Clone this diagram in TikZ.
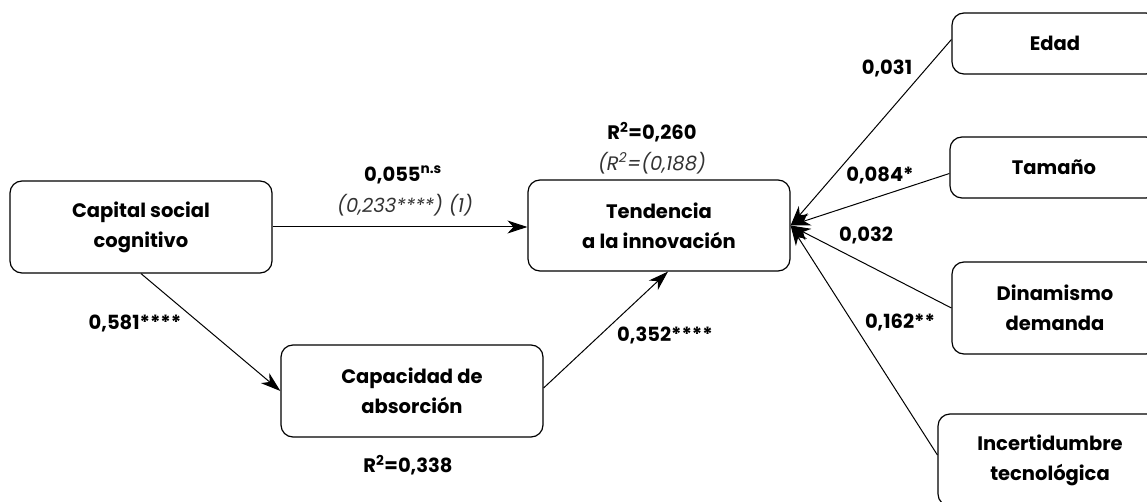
\documentclass[tikz,border=0pt]{standalone}
\usepackage{fontspec}
\setmainfont{Poppins}
\usetikzlibrary{arrows.meta}
\newcommand{\boxfont}{\fontsize{19.5}{30}\selectfont\bfseries}
\newcommand{\lblfont}{\fontsize{19.5}{24}\selectfont\bfseries}
\newcommand{\notefont}{\fontsize{19.5}{24}\selectfont\itshape}
\begin{document}
\begin{tikzpicture}[x=1pt,y=-1pt,
  box/.style={draw, line width=1.2pt, rounded corners=12pt, align=center,
    font=\boxfont, inner sep=0pt},
  lbl/.style={font=\lblfont, inner sep=0pt},
  note/.style={font=\notefont, text=black!80, inner sep=0pt},
  arr/.style={line width=1pt, -{Stealth[length=20pt,width=13pt,inset=6pt]}}]
\useasboundingbox (0,0) rectangle (1147,502);

% constructs
\node[box, minimum width=262pt, minimum height=92pt] (csc) at (141,227) {Capital social\\cognitivo};
\node[box, minimum width=262pt, minimum height=91pt] (ti) at (659,225.5) {Tendencia\\a la innovación};
\node[box, minimum width=262pt, minimum height=92pt] (ca) at (412,391) {Capacidad de\\absorción};

% control variables
\node[box, minimum width=206pt, minimum height=61pt] (ed) at (1055,43.5) {Edad};
\node[box, minimum width=208pt, minimum height=61pt] (tm) at (1054,167.5) {Tamaño};
\node[box, minimum width=206pt, minimum height=92pt] (di) at (1055,308) {Dinamismo\\demanda};
\node[box, minimum width=224pt, minimum height=92pt] (in) at (1050,460) {Incertidumbre\\tecnológica};

% path coefficients and explained variance
\node[lbl] (l055) at (403,175) {0,055\textsuperscript{n.s}};
\node[note] (l233) at (405,205) {(0,233****) (1)};
\node[lbl] (r260) at (652,132) {R\textsuperscript{2}=0,260};
\node[note] (r188) at (652,163) {(R\textsuperscript{2}=(0,188)};
\node[lbl] (l581) at (135,323) {0,581****};
\node[lbl] (l352) at (665,335) {0,352****};
\node[lbl] (r338) at (408,465) {R\textsuperscript{2}=0,338};
\node[lbl] (l031) at (887,68) {0,031};
\node[lbl] (l084) at (880,175) {0,084*};
\node[lbl] (l032) at (866,235) {0,032};
\node[lbl] (l162) at (900,322) {0,162**};

% paths
\draw[arr] (csc.east) -- (csc.east -| ti.west);
\draw[arr] (csc.south) -- (ca.west);
\draw[arr] ([yshift=3pt]ca.east) -- ([xshift=9pt]ti.south);
\draw[arr] ([yshift=4pt]ed.west) -- (ti.east);
\draw[arr] ([yshift=-6pt]tm.west) -- (ti.east);
\draw[arr] (di.west) -- (ti.east);
\draw[arr] ([yshift=5pt]in.west) -- (ti.east);
\end{tikzpicture}
\end{document}
